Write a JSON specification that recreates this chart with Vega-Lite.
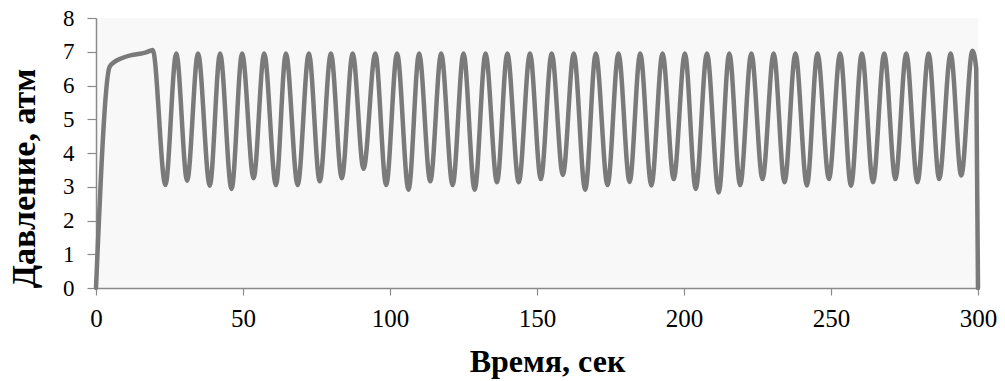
{
  "$schema": "https://vega.github.io/schema/vega-lite/v6.json",
  "width": 882,
  "height": 270,
  "autosize": {"type": "none"},
  "padding": {"left": 96, "top": 18, "right": 27, "bottom": 93},
  "background": "white",
  "config": {
    "view": {"stroke": null, "fill": "#f8f8f8"},
    "font": "Liberation Serif",
    "axis": {
      "grid": false,
      "domainColor": "#8a8a8a",
      "domainWidth": 1.5,
      "tickColor": "#8a8a8a",
      "tickWidth": 1.2,
      "labelColor": "#000000",
      "titleColor": "#000000",
      "labelFont": "Liberation Serif",
      "titleFont": "Liberation Serif",
      "titleFontWeight": "bold"
    }
  },
  "data": {
    "values": [
      {"t": 0, "p": 0},
      {"t": 4.6, "p": 6.55},
      {"t": 6, "p": 6.68},
      {"t": 8.5, "p": 6.8},
      {"t": 12, "p": 6.9},
      {"t": 15.5, "p": 6.95},
      {"t": 17, "p": 6.98},
      {"t": 19.3, "p": 7.05},
      {"t": 23.6, "p": 3.05},
      {"t": 27.3, "p": 6.95},
      {"t": 31.0, "p": 3.18},
      {"t": 34.7, "p": 6.95},
      {"t": 38.7, "p": 3.03},
      {"t": 42.2, "p": 6.95},
      {"t": 46.1, "p": 2.93},
      {"t": 49.7, "p": 6.95},
      {"t": 53.6, "p": 3.25},
      {"t": 57.2, "p": 6.95},
      {"t": 61.2, "p": 3.05},
      {"t": 64.6, "p": 6.95},
      {"t": 68.6, "p": 3.05},
      {"t": 72.4, "p": 6.95},
      {"t": 76.1, "p": 3.16},
      {"t": 79.9, "p": 6.95},
      {"t": 83.6, "p": 3.25},
      {"t": 87.3, "p": 6.95},
      {"t": 91.0, "p": 3.53},
      {"t": 95.0, "p": 6.95},
      {"t": 98.7, "p": 3.05},
      {"t": 102.4, "p": 6.95},
      {"t": 106.3, "p": 2.91},
      {"t": 109.9, "p": 6.95},
      {"t": 113.7, "p": 3.16},
      {"t": 117.4, "p": 6.95},
      {"t": 121.3, "p": 3.05},
      {"t": 125.0, "p": 6.95},
      {"t": 128.8, "p": 2.91},
      {"t": 132.5, "p": 6.95},
      {"t": 136.4, "p": 3.13},
      {"t": 139.9, "p": 6.95},
      {"t": 143.8, "p": 3.13},
      {"t": 147.6, "p": 6.95},
      {"t": 151.3, "p": 3.23},
      {"t": 155.0, "p": 6.95},
      {"t": 158.8, "p": 3.35},
      {"t": 162.5, "p": 6.95},
      {"t": 166.4, "p": 2.91},
      {"t": 170.0, "p": 6.95},
      {"t": 174.0, "p": 3.05},
      {"t": 177.7, "p": 6.95},
      {"t": 181.5, "p": 3.14},
      {"t": 185.1, "p": 6.95},
      {"t": 188.9, "p": 3.04},
      {"t": 192.7, "p": 6.95},
      {"t": 196.5, "p": 3.23},
      {"t": 200.3, "p": 6.95},
      {"t": 204.0, "p": 2.93},
      {"t": 207.8, "p": 6.95},
      {"t": 211.8, "p": 2.83},
      {"t": 215.4, "p": 6.95},
      {"t": 219.1, "p": 3.05},
      {"t": 222.9, "p": 6.95},
      {"t": 226.7, "p": 3.23},
      {"t": 230.5, "p": 6.95},
      {"t": 234.2, "p": 3.13},
      {"t": 237.9, "p": 6.95},
      {"t": 241.8, "p": 3.04},
      {"t": 245.4, "p": 6.95},
      {"t": 249.3, "p": 3.23},
      {"t": 253.1, "p": 6.95},
      {"t": 256.8, "p": 3.03},
      {"t": 260.5, "p": 6.95},
      {"t": 264.3, "p": 3.13},
      {"t": 268.1, "p": 6.95},
      {"t": 271.9, "p": 3.23},
      {"t": 275.6, "p": 6.95},
      {"t": 279.4, "p": 3.13},
      {"t": 283.2, "p": 6.95},
      {"t": 286.8, "p": 3.23},
      {"t": 290.7, "p": 6.95},
      {"t": 294.3, "p": 3.33},
      {"t": 298.1, "p": 7.03},
      {"t": 299.4, "p": 6.5},
      {"t": 300, "p": 0}
    ]
  },
  "mark": {"type": "line", "interpolate": "monotone", "color": "#7a7a7a", "strokeWidth": 4.5, "strokeCap": "round", "strokeJoin": "round"},
  "encoding": {
    "x": {
      "field": "t",
      "type": "quantitative",
      "scale": {"domain": [0, 300], "nice": false},
      "axis": {
        "title": "Время, сек",
        "values": [0, 50, 100, 150, 200, 250, 300],
        "tickSize": 7,
        "labelPadding": 11,
        "labelFontSize": 25,
        "titleFontSize": 32,
        "titleX": 451,
        "titleY": 83,
        "titleBaseline": "alphabetic",
        "labelFlush": false
      }
    },
    "y": {
      "field": "p",
      "type": "quantitative",
      "scale": {"domain": [0, 8], "nice": false},
      "axis": {
        "title": "Давление, атм",
        "values": [0, 1, 2, 3, 4, 5, 6, 7, 8],
        "tickSize": 9,
        "labelPadding": 13,
        "labelFontSize": 23,
        "titleFontSize": 34,
        "titleX": -62,
        "titleY": 160,
        "titleBaseline": "alphabetic",
        "titleAlign": "center",
        "labelFlush": false
      }
    }
  }
}
